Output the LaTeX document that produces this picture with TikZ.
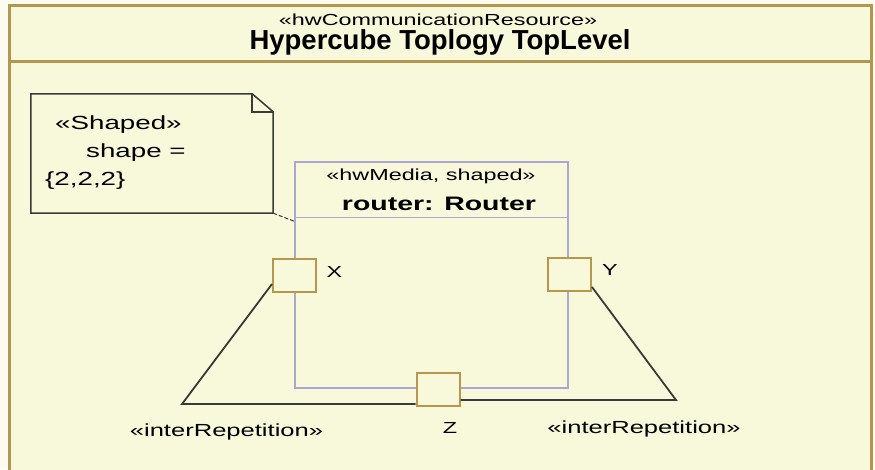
\documentclass[tikz,border=0pt]{standalone}
\usepackage{fontspec}
\setmainfont{Liberation Sans}
\newfontfamily\wfont{Liberation Sans}[FakeStretch=1.46]
\definecolor{bg}{HTML}{F8F8DA}
\definecolor{outbg}{HTML}{FBFBEF}
\definecolor{framec}{HTML}{B49650}
\definecolor{lav}{HTML}{ADA6D2}
\definecolor{portc}{HTML}{B8964E}
\definecolor{ink}{HTML}{3A3A3A}
\begin{document}
\begin{tikzpicture}[x=1pt,y=-1pt,
  txt/.style={inner sep=0pt, anchor=base, text=black, font=\wfont\fontsize{16}{19}\selectfont},
  notetxt/.style={inner sep=0pt, anchor=base west, text=black, font=\wfont\fontsize{19}{22}\selectfont},
  lbl/.style={inner sep=0pt, anchor=center, text=black, font=\wfont\fontsize{16}{19}\selectfont},
  portbox/.style={draw=portc, line width=2pt, fill=bg, minimum width=43pt, minimum height=33pt, inner sep=0pt},
  conn/.style={draw=ink, line width=1.8pt},
  notebox/.style={draw=ink, line width=1.5pt, fill=bg, line join=miter},
  framel/.style={draw=framec, line width=3pt},
]
\useasboundingbox (0,0) rectangle (875,469);
\clip (0,0) rectangle (875,469);
\fill[outbg] (0,0) rectangle (875,469);
\fill[bg] (9.5,5) rectangle (871.5,480);
\draw[framel] (9.5,480) -- (9.5,5) -- (871.5,5) -- (871.5,480);
\draw[framel] (9.5,61) -- (871.5,61);

\node[txt] (stereo) at (438,25) {«hwCommunicationResource»};
\node[txt, font=\fontsize{27.5}{30}\selectfont\bfseries] (title) at (440,49) {Hypercube Toplogy TopLevel};

% note
\node[minimum width=242pt, minimum height=119pt, inner sep=0pt] (note) at (152,153.5) {};
\draw[notebox] (note.north west) -- ([xshift=-21pt]note.north east) -- ([yshift=-18pt]note.north east) -- (note.south east) -- (note.south west) -- cycle;
\draw[notebox, fill=none] ([xshift=-21pt]note.north east) |- ([yshift=-18pt]note.north east);
\node[notetxt] (n1) at (55,129) {«Shaped»};
\node[notetxt] (n2) at (86,157) {shape =};
\node[notetxt] (n3) at (45,185) {\{2,2,2\}};

% router
\node[draw=lav, line width=1.5pt, minimum width=273pt, minimum height=226pt, inner sep=0pt] (router) at (431.5,275) {};
\draw[lav, line width=1.5pt] ([yshift=-56pt]router.north west) -- ([yshift=-56pt]router.north east);
\node[txt] (rst) at (431,180) {«hwMedia, shaped»};
\node[txt, font=\wfont\bfseries\fontsize{19.5}{22}\selectfont] (rname) at (439,210.5) {router: Router};

\draw[ink, line width=1pt, dash pattern=on 4pt off 2pt] (note.south east) -- ([yshift=-60pt]router.north west);

% ports
\node[portbox] (px) at (294.5,275.5) {};
\node[portbox] (py) at (569.5,274) {};
\node[portbox] (pz) at (438,389.5) {};
\node[lbl] (lx) at (334.5,272) {X};
\node[lbl] (ly) at (610,270) {Y};
\node[lbl] (lz) at (450,428) {Z};

% connectors
\coordinate (bl) at (182,404);
\coordinate (br) at (676,400);
\draw[conn] ([yshift=-8.5pt]px.west) -- (bl) -- ([yshift=-14.5pt]pz.west);
\draw[conn] ([yshift=-10.5pt]pz.east) -- (br) -- ([yshift=-13pt]py.east);

\node[txt, font=\wfont\fontsize{17.5}{20}\selectfont] (ir1) at (226.5,436) {«interRepetition»};
\node[txt, font=\wfont\fontsize{17.5}{20}\selectfont] (ir2) at (644,433) {«interRepetition»};
\end{tikzpicture}
\end{document}
